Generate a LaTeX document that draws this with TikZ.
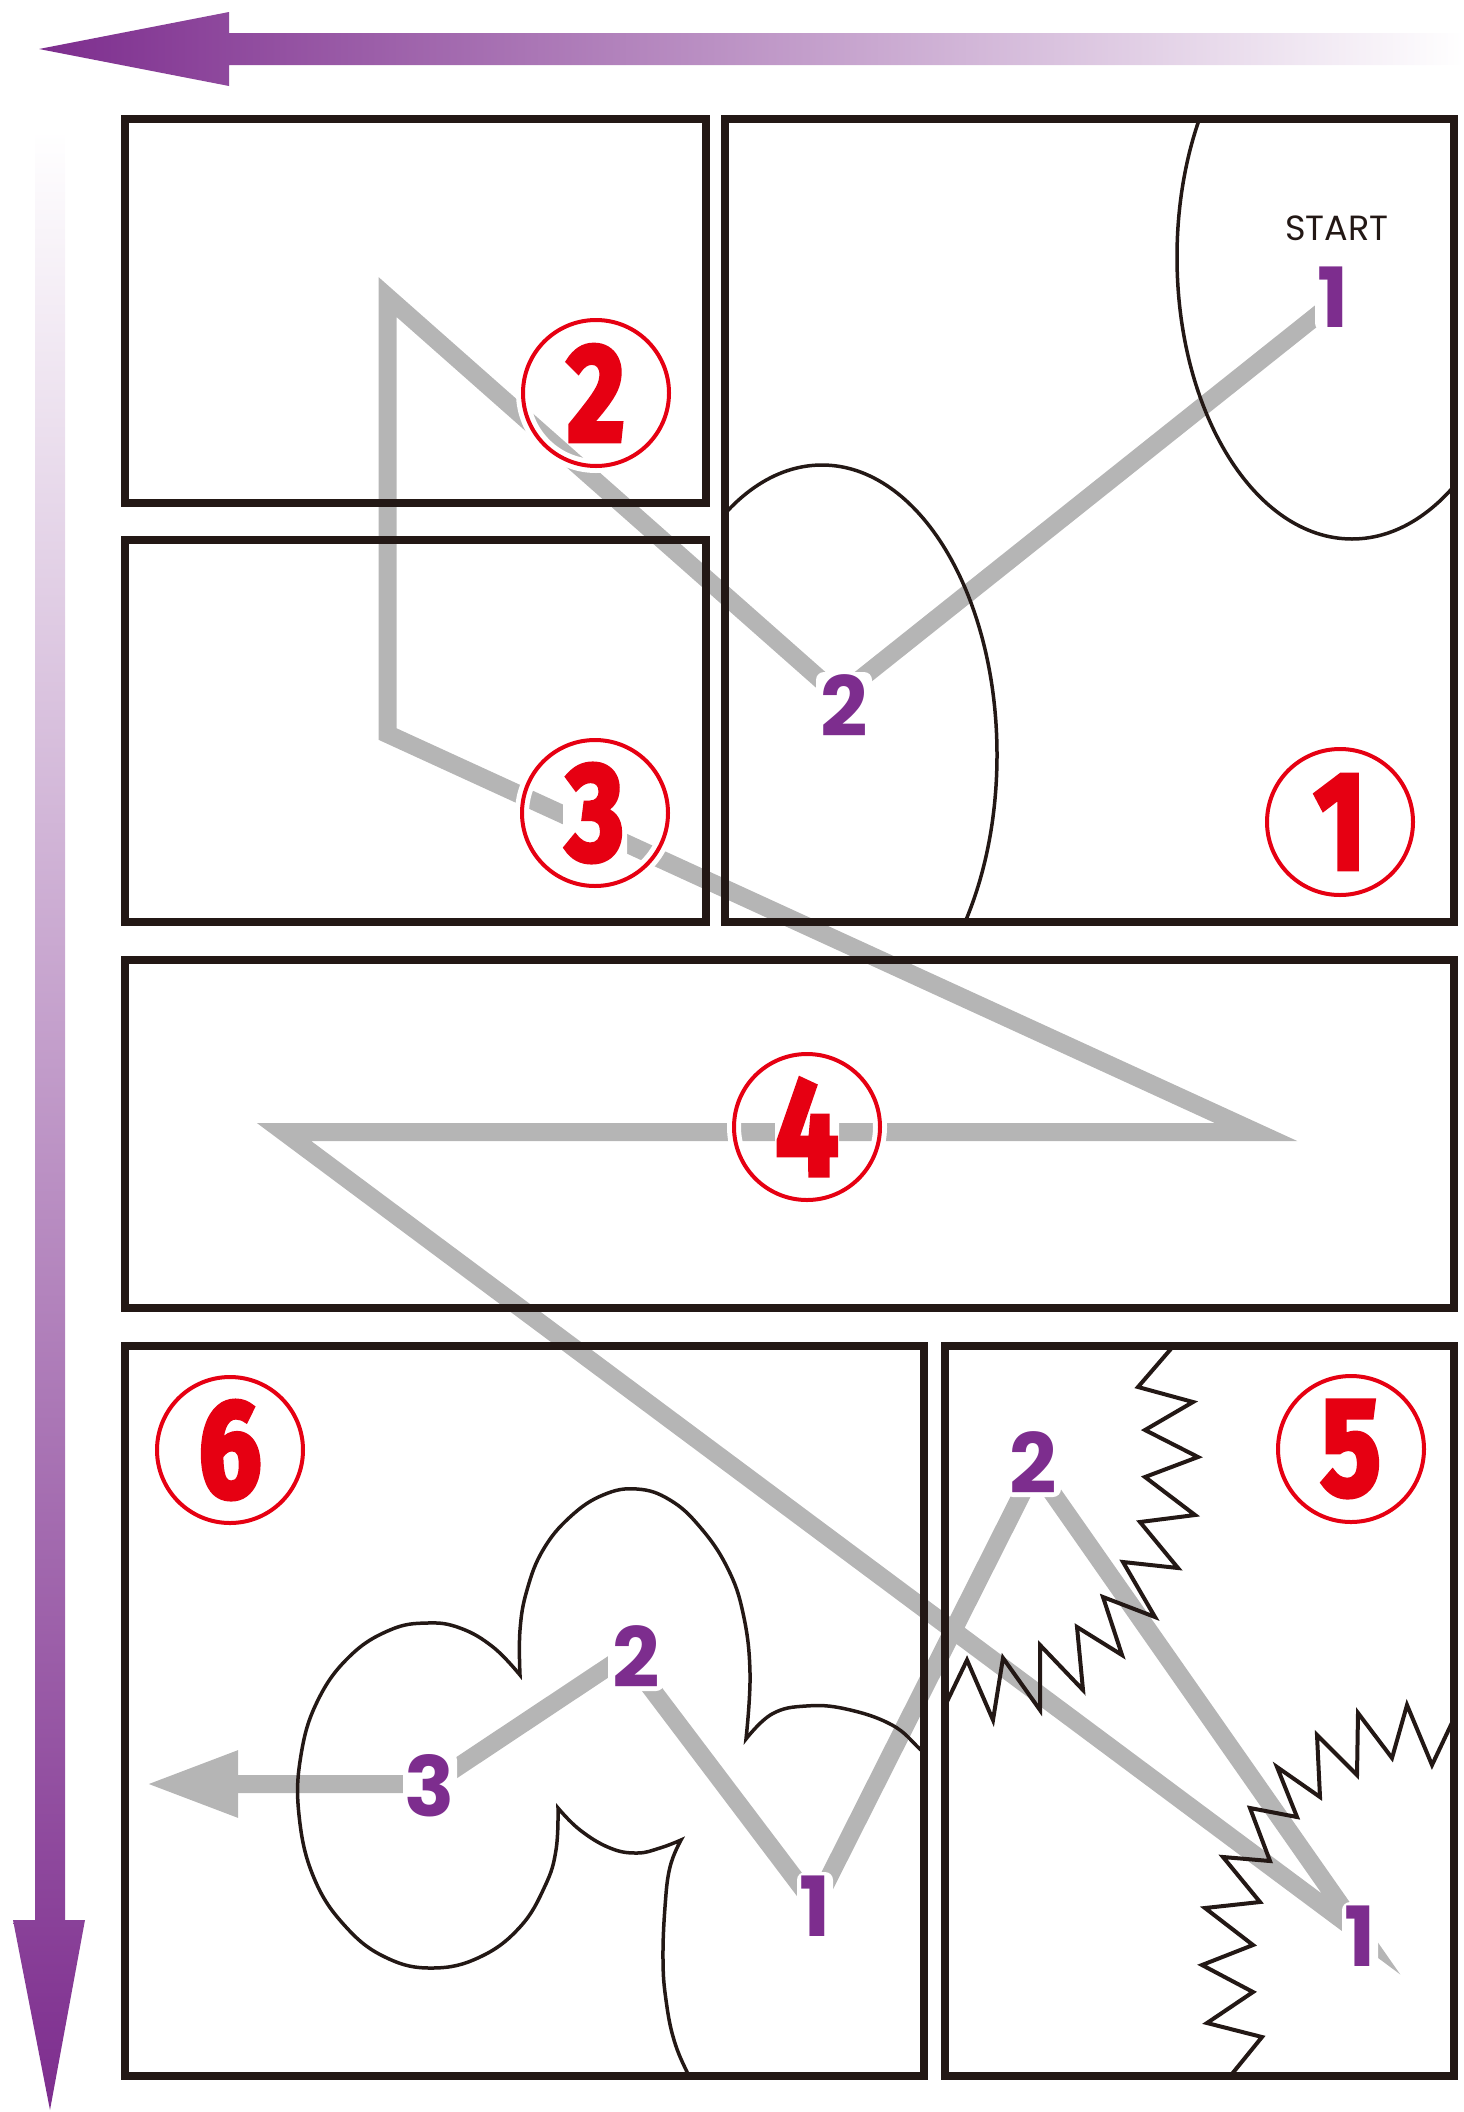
\documentclass[tikz,border=0pt]{standalone}
\usepackage{fontspec}
\usepackage{graphicx}
\newfontfamily\popfont{Poppins}
\newfontfamily\redfont{Fira Sans}[BoldFeatures={FakeBold=4}]
\usetikzlibrary{arrows.meta}
\definecolor{pur}{RGB}{125,45,142}
\definecolor{gry}{RGB}{181,181,181}
\definecolor{ink}{RGB}{35,24,21}
\definecolor{redc}{RGB}{230,0,18}
\newcommand{\rnum}[1]{\makebox[0pt]{\scalebox{0.8}[1]{#1}}}
\newcommand{\pnum}[1]{\makebox[0pt]{#1}}
\tikzset{
  panel/.style={draw=ink, line width=8.5pt},
  art/.style={draw=ink, line width=3.5pt},
  zig/.style={draw=ink, line width=4pt, line join=miter},
  route/.style={draw=gry, line width=18pt, line join=miter, miter limit=12},
  ring/.style={circle, draw=redc, line width=4pt, minimum size=146pt, inner sep=0pt,
    preaction={draw=white, line width=14pt}},
  redtxt/.style={fill=white, rounded corners=10pt, inner sep=0pt, minimum width=64pt, minimum height=104pt,
    text=redc, font=\redfont\bfseries\fontsize{138}{138}\selectfont},
  plab/.style={fill=white, rounded corners=8pt, inner sep=0pt, minimum height=68pt,
    text=pur, font=\popfont\bfseries\fontsize{83}{83}\selectfont},
}
\begin{document}
\begin{tikzpicture}[x=1pt,y=-1pt]
\useasboundingbox (0,0) rectangle (1464,2112);

% reading-direction arrows
\shade[left color=pur, right color=white]
  (39,49) -- (229,12) -- (229,33) -- (1464,33) -- (1464,65) -- (229,65) -- (229,86) -- cycle;
\shade[top color=white, bottom color=pur]
  (35,130) -- (65,130) -- (65,1920) -- (85,1920) -- (50,2110) -- (13,1920) -- (35,1920) -- cycle;

% reading route
\coordinate (v0) at (1335,301);
\coordinate (v1) at (839,696);
\coordinate (v2) at (387.5,297);
\coordinate (v3) at (387.5,734);
\coordinate (v4) at (1256,1132);
\coordinate (v5) at (284,1132);
\coordinate (v6) at (1361,1934);
\coordinate (v7) at (1035,1468);
\coordinate (v8) at (815,1905);
\coordinate (v9) at (626,1655);
\coordinate (v10) at (432,1784);
\coordinate (vend) at (146,1784);
\draw[route, -{Triangle[length=92pt,width=62pt]}]
  (v0) -- (v1) -- (v2) -- (v3) -- (v4) -- (v5) -- (v6) -- (v7) -- (v8) -- (v9) -- (v10) -- (vend);

% panel 1 balloons
\begin{scope}
  \clip (725,119) rectangle (1454,922);
  \draw[art] (1352,257) ellipse [x radius=175pt, y radius=282pt];
  \draw[art] (822,755) ellipse [x radius=175pt, y radius=290pt];
\end{scope}

% panel 6 cloud
\begin{scope}
  \clip (125,1346) rectangle (924,2076);
  \draw[art]
    plot[smooth, tension=0.7] coordinates {(945,1772) (921,1750) (892,1725) (846,1709) (806,1706) (772,1714) (746,1739)}
    -- plot[smooth, tension=0.7] coordinates {(746,1739) (750,1673) (743,1613) (727,1567) (700,1527) (670,1500) (637,1489) (603,1495) (570,1517) (543,1550) (527,1590) (520,1630) (520,1675)}
    -- plot[smooth, tension=0.7] coordinates {(520,1675) (493,1647) (460,1628) (427,1623) (390,1630) (350,1656) (318,1700) (301,1755) (299,1815) (314,1878) (346,1927) (387,1958) (433,1968) (480,1957) (520,1927) (545,1886) (556,1850) (558,1808)}
    -- plot[smooth, tension=0.7] coordinates {(558,1808) (580,1830) (610,1848) (637,1853) (660,1848) (681,1840)}
    -- plot[smooth, tension=0.7] coordinates {(681,1840) (670,1867) (665,1907) (663,1960) (666,2000) (674,2040) (688,2074) (700,2095)};
\end{scope}

% panel 5 zigzags
\begin{scope}
  \clip (945,1346) rectangle (1454,2076);
  \draw[zig] (1176,1343) -- (1138,1387) -- (1193,1402) -- (1145,1430) -- (1198,1457) -- (1145,1477)
    -- (1195,1515) -- (1140,1522) -- (1178,1568) -- (1123,1562) -- (1155,1617) -- (1103,1597)
    -- (1122,1655) -- (1077,1627) -- (1083,1690) -- (1040,1645) -- (1040,1710) -- (1003,1658)
    -- (993,1720) -- (967,1660) -- (942,1712);
  \draw[zig] (1458,1710) -- (1432,1765) -- (1407,1705) -- (1392,1758) -- (1358,1713) -- (1357,1775)
    -- (1317,1735) -- (1320,1797) -- (1277,1767) -- (1297,1817) -- (1250,1808) -- (1270,1861)
    -- (1223,1857) -- (1260,1902) -- (1205,1908) -- (1253,1945) -- (1202,1965) -- (1253,1992)
    -- (1207,2023) -- (1262,2037) -- (1227,2080);
\end{scope}

% panel frames
\draw[panel] (125,119) rectangle (706,503);
\draw[panel] (125,540) rectangle (706,922);
\draw[panel] (725,119) rectangle (1454,922);
\draw[panel] (125,960) rectangle (1454,1308);
\draw[panel] (125,1346) rectangle (924,2076);
\draw[panel] (945,1346) rectangle (1454,2076);

% circled panel numbers
\node[ring] (n1) at (1340,822) {};
\node[ring] (n2) at (596,393) {};
\node[ring] (n3) at (595,813) {};
\node[ring] (n4) at (807,1127) {};
\node[ring] (n5) at (1351,1449) {};
\node[ring] (n6) at (230,1450) {};
\node[redtxt] (t1) at (n1) {\rnum{1}};
\node[redtxt] (t2) at (n2) {\rnum{2}};
\node[redtxt] (t3) at (n3) {\rnum{3}};
\node[redtxt] (t4) at (n4) {\rnum{4}};
\node[redtxt] (t5) at (n5) {\rnum{5}};
\node[redtxt] (t6) at (n6) {\rnum{6}};

% reading-order labels
\node[inner sep=0pt, text=ink, font=\popfont\fontsize{35}{35}\selectfont] (start) at (1337,228) {START};
\node[plab, minimum width=36pt] (a1) at (1333,297) {\pnum{1}};
\node[plab, minimum width=56pt] (a2) at (844,706) {\pnum{2}};
\node[plab, minimum width=56pt] (b2) at (1033,1463) {\pnum{2}};
\node[plab, minimum width=36pt] (b1) at (1360,1936) {\pnum{1}};
\node[plab, minimum width=36pt] (c1) at (815,1906) {\pnum{1}};
\node[plab, minimum width=56pt] (c2) at (636,1657) {\pnum{2}};
\node[plab, minimum width=54pt] (c3) at (430,1786) {\pnum{3}};
\end{tikzpicture}
\end{document}
